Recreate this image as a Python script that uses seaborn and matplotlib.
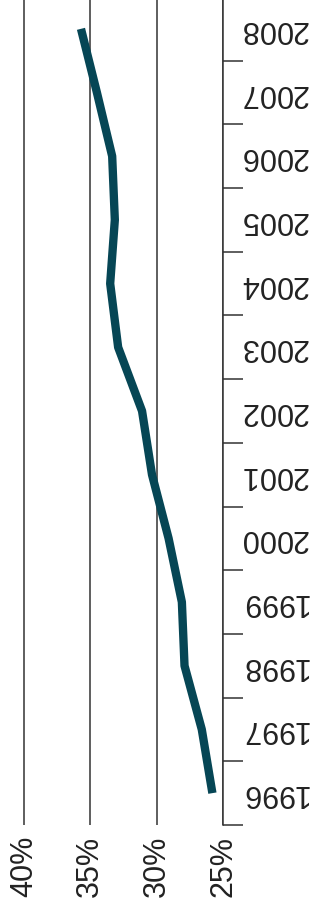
import numpy as np
import pandas as pd
import matplotlib
matplotlib.use('Agg')
import matplotlib.pyplot as plt
import seaborn as sns
from matplotlib.ticker import FixedLocator, PercentFormatter

# valores
anos = [1996, 1997, 1998, 1999, 2000, 2001, 2002, 2003, 2004, 2005, 2006, 2007, 2008]
participacao = [25.8, 26.6, 27.9, 28.1, 29.1, 30.35, 31.1, 32.9, 33.5, 33.15, 33.35, 34.5, 35.7]
marcas_pct = [40, 35, 30, 25]

dados = pd.DataFrame({'Ano': anos, 'Participacao': participacao})

sns.set_style('white')
plt.rcParams['font.family'] = ['Liberation Sans', 'DejaVu Sans']

fig = plt.figure(figsize=(3.15, 9.14), dpi=100)
ax = fig.add_axes([0.0, 0.0974, 0.708, 0.9059])

sns.lineplot(data=dados, x='Participacao', y='Ano', orient='y', sort=False,
             color='#064655', linewidth=6, solid_capstyle='butt', ax=ax)

# eixo x (percentual), invertido
ax.set_xlim(41.8, 25)
ax.xaxis.set_major_locator(FixedLocator(marcas_pct))
ax.xaxis.set_major_formatter(PercentFormatter(decimals=0))
ax.grid(axis='x', color='#333333', linewidth=1.1)
ax.grid(axis='y', visible=False)
ax.tick_params(axis='x', length=0, pad=8, labelsize=22, labelrotation=90, colors='#222222')

# eixo y (anos) a direita: marcas nas fronteiras, rotulos no centro
ax.set_ylim(anos[0] - 0.5, anos[-1] + 0.5)
ax.yaxis.tick_right()
ax.set_yticks(np.array(anos) - 0.5)
ax.set_yticklabels([])
ax.set_yticks(anos, minor=True)
ax.set_yticklabels([str(a) for a in anos], minor=True)
ax.tick_params(axis='y', which='major', length=14.5, width=1.1, color='#333333')
ax.tick_params(axis='y', which='minor', length=0, pad=12, labelsize=22,
               labelrotation=180, colors='#222222')
for lbl in ax.get_yticklabels(minor=True):
    lbl.set_verticalalignment('center')

for lado in ['top', 'left', 'bottom']:
    ax.spines[lado].set_visible(False)
ax.spines['right'].set_color('#333333')
ax.spines['right'].set_linewidth(1.1)

ax.set_xlabel('')
ax.set_ylabel('')

fig.savefig('out.png', dpi=100)
